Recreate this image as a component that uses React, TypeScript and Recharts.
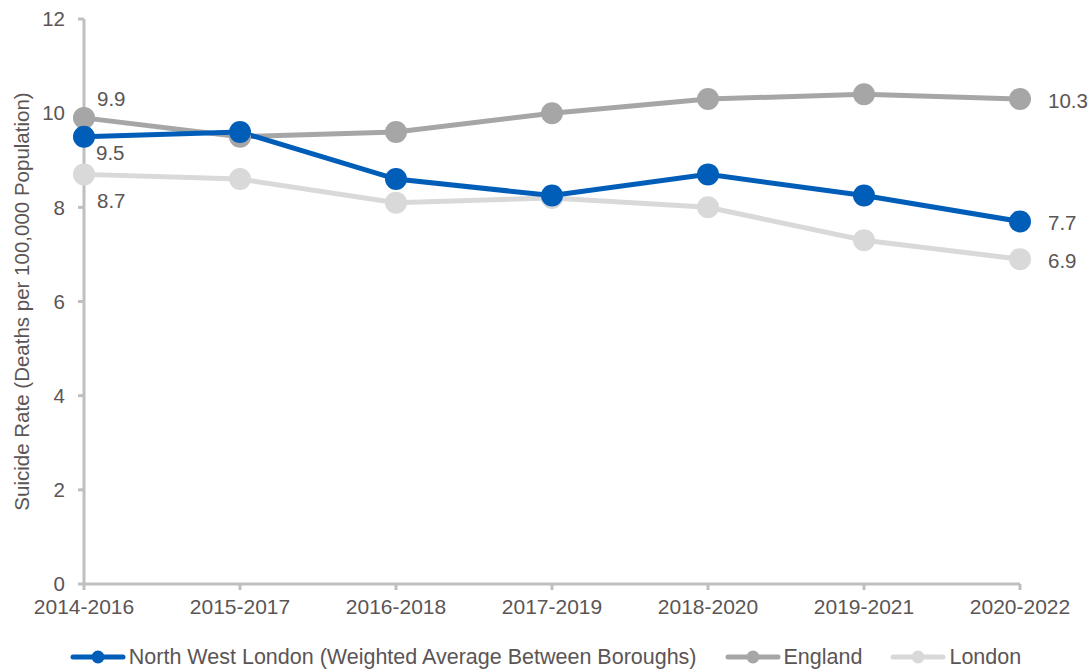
import React from "react";
import { LineChart, Line, XAxis, YAxis, Legend } from "recharts";

const categories = ["2014-2016", "2015-2017", "2016-2018", "2017-2019", "2018-2020", "2019-2021", "2020-2022"];
const northWestLondon = [9.5, 9.6, 8.6, 8.25, 8.7, 8.25, 7.7];
const england = [9.9, 9.5, 9.6, 10.0, 10.3, 10.4, 10.3];
const london = [8.7, 8.6, 8.1, 8.2, 8.0, 7.3, 6.9];
const yTicks = [0, 2, 4, 6, 8, 10, 12];

const seriesNames = {
  nwl: "North West London (Weighted Average Between Boroughs)",
  eng: "England",
  ldn: "London",
};

const data = categories.map((c, i) => ({
  period: c,
  nwl: northWestLondon[i],
  eng: england[i],
  ldn: london[i],
}));

const TEXT = "#5B5555";
const AXIS = "#BFBFBF";
const FONT = "'Liberation Sans', Arial, sans-serif";

const colors = { nwl: "#005EB8", eng: "#A6A6A6", ldn: "#D9D9D9" };

const makeLabel = (firstDx: number, firstDy: number) => (props: any) => {
  const { x, y, index, value } = props;
  const last = categories.length - 1;
  if (index !== 0 && index !== last) return null;
  const txt = Number(value).toFixed(1);
  if (index === 0) {
    return (
      <text x={x + firstDx} y={y + firstDy} fill={TEXT} fontSize={20.5} fontFamily={FONT} dominantBaseline="central">
        {txt}
      </text>
    );
  }
  return (
    <text x={x + 28} y={y + 1} fill={TEXT} fontSize={20.5} fontFamily={FONT} dominantBaseline="central">
      {txt}
    </text>
  );
};

const LegendContent = () => {
  const items = [
    { key: "nwl", label: seriesNames.nwl },
    { key: "eng", label: seriesNames.eng },
    { key: "ldn", label: seriesNames.ldn },
  ];
  return (
    <div style={{ display: "flex", justifyContent: "center", alignItems: "center", height: 26, fontFamily: FONT, fontSize: 21.5, color: TEXT }}>
      {items.map((it, i) => (
        <div key={it.key} style={{ display: "flex", alignItems: "center", marginLeft: i === 0 ? 0 : 28 }}>
          <svg width={56} height={14} style={{ marginRight: 3 }}>
            <line x1={3} y1={7} x2={53} y2={7} stroke={(colors as any)[it.key]} strokeWidth={5} strokeLinecap="round" />
            <circle cx={28} cy={7} r={6.5} fill={(colors as any)[it.key]} />
          </svg>
          <span>{it.label}</span>
        </div>
      ))}
    </div>
  );
};

export default function App() {
  return (
    <div style={{ position: "absolute", left: 0, top: 0, width: 1091, height: 670, background: "#fff" }}>
      <LineChart width={1091} height={670} data={data} margin={{ top: 19, right: 71, bottom: 0, left: 0 }}>
        <XAxis
          dataKey="period"
          stroke={AXIS}
          strokeWidth={3}
          tickSize={6}
          tickMargin={9}
          height={60}
          tick={{ fill: TEXT, fontSize: 21, fontFamily: FONT }}
          interval={0}
        />
        <YAxis
          domain={[0, 12]}
          ticks={yTicks}
          width={84}
          stroke={AXIS}
          strokeWidth={3}
          tickSize={6}
          tickMargin={13}
          tick={{ fill: TEXT, fontSize: 20.5, fontFamily: FONT }}
          label={{
            value: "Suicide Rate (Deaths per 100,000 Population)",
            angle: -90,
            position: "insideLeft",
            dx: 17,
            dy: 0,
            style: { fill: TEXT, fontSize: 20.5, fontFamily: FONT, textAnchor: "middle" },
          }}
        />
        <Legend
          verticalAlign="bottom"
          height={26}
          width={1091}
          wrapperStyle={{ left: 0, width: 1091 }}
          content={<LegendContent />}
        />
        <Line
          dataKey="ldn"
          stroke={colors.ldn}
          strokeWidth={5}
          dot={{ r: 11, fill: colors.ldn, stroke: colors.ldn, strokeWidth: 0 }}
          activeDot={false}
          isAnimationActive={false}
          label={makeLabel(13, 26)}
        />
        <Line
          dataKey="eng"
          stroke={colors.eng}
          strokeWidth={5}
          dot={{ r: 11, fill: colors.eng, stroke: colors.eng, strokeWidth: 0 }}
          activeDot={false}
          isAnimationActive={false}
          label={makeLabel(13, -19)}
        />
        <Line
          dataKey="nwl"
          stroke={colors.nwl}
          strokeWidth={5}
          dot={{ r: 11, fill: colors.nwl, stroke: colors.nwl, strokeWidth: 0 }}
          activeDot={false}
          isAnimationActive={false}
          label={makeLabel(12, 16)}
        />
      </LineChart>
    </div>
  );
}
